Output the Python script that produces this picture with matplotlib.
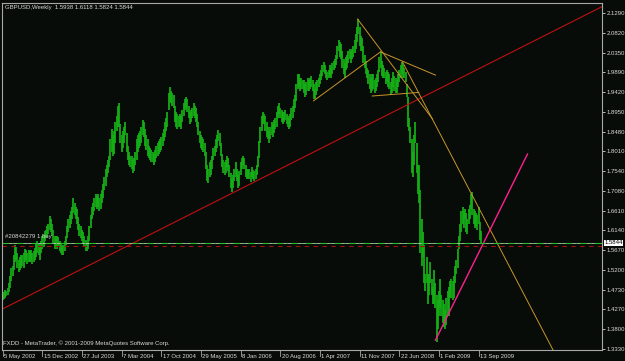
import matplotlib
matplotlib.use("Agg")
import matplotlib.pyplot as plt
import matplotlib.transforms as mtransforms

# weekly GBPUSD bars, week 0 = 5 May 2002
lows = [
    1.448, 1.452, 1.455, 1.458, 1.462, 1.468, 1.478, 1.495, 1.505, 1.520, 1.540, 1.545,
    1.525, 1.515, 1.520, 1.525, 1.530, 1.525, 1.540, 1.545, 1.535, 1.540, 1.538, 1.542,
    1.535, 1.540, 1.545, 1.550, 1.560, 1.555, 1.545, 1.560, 1.570, 1.575, 1.590, 1.595,
    1.598, 1.605, 1.615, 1.610, 1.600, 1.585, 1.570, 1.575, 1.570, 1.575, 1.565, 1.560,
    1.555, 1.555, 1.565, 1.580, 1.595, 1.610, 1.620, 1.630, 1.640, 1.655, 1.650, 1.640,
    1.630, 1.615, 1.600, 1.595, 1.590, 1.585, 1.575, 1.565, 1.565, 1.570, 1.590, 1.620,
    1.640, 1.650, 1.660, 1.670, 1.665, 1.670, 1.660, 1.665, 1.680, 1.690, 1.710, 1.720,
    1.740, 1.750, 1.765, 1.780, 1.800, 1.790, 1.795, 1.820, 1.850, 1.860, 1.860, 1.820,
    1.800, 1.810, 1.820, 1.840, 1.800, 1.780, 1.770, 1.765, 1.760, 1.750, 1.755, 1.770,
    1.780, 1.800, 1.810, 1.815, 1.820, 1.840, 1.835, 1.815, 1.805, 1.790, 1.785, 1.780,
    1.775, 1.775, 1.770, 1.775, 1.785, 1.790, 1.795, 1.800, 1.805, 1.815, 1.825, 1.835,
    1.850, 1.860, 1.900, 1.920, 1.915, 1.910, 1.905, 1.870, 1.860, 1.855, 1.860, 1.860,
    1.855, 1.870, 1.885, 1.900, 1.905, 1.895, 1.880, 1.865, 1.870, 1.880, 1.885, 1.880,
    1.870, 1.860, 1.840, 1.820, 1.810, 1.805, 1.800, 1.790, 1.760, 1.730, 1.727, 1.740,
    1.745, 1.760, 1.780, 1.790, 1.800, 1.810, 1.825, 1.815, 1.790, 1.765, 1.750, 1.745,
    1.750, 1.765, 1.755, 1.740, 1.715, 1.705, 1.715, 1.730, 1.740, 1.730, 1.715, 1.720,
    1.745, 1.760, 1.770, 1.760, 1.740, 1.735, 1.735, 1.735, 1.728, 1.740, 1.735, 1.730,
    1.735, 1.745, 1.765, 1.785, 1.820, 1.850, 1.865, 1.865, 1.850, 1.835, 1.830, 1.820,
    1.830, 1.840, 1.835, 1.845, 1.855, 1.860, 1.880, 1.890, 1.880, 1.870, 1.865, 1.870,
    1.875, 1.865, 1.860, 1.855, 1.860, 1.875, 1.880, 1.895, 1.905, 1.920, 1.950, 1.955,
    1.945, 1.950, 1.950, 1.940, 1.930, 1.935, 1.945, 1.945, 1.950, 1.955, 1.945, 1.925,
    1.925, 1.935, 1.945, 1.955, 1.960, 1.970, 1.980, 1.990, 1.985, 1.975, 1.970, 1.975,
    1.980, 1.975, 1.985, 1.995, 2.000, 2.005, 2.020, 2.040, 2.025, 2.020, 2.000, 1.985,
    1.975, 1.995, 2.000, 2.010, 2.020, 2.010, 2.020, 2.025, 2.035, 2.045, 2.060, 2.080,
    2.050, 2.040, 2.040, 2.010, 2.000, 1.985, 1.975, 1.960, 1.950, 1.940, 1.945, 1.950,
    1.940, 1.945, 1.955, 1.965, 1.990, 2.000, 1.980, 1.975, 1.975, 1.960, 1.965, 1.955,
    1.950, 1.935, 1.940, 1.955, 1.945, 1.940, 1.940, 1.955, 1.965, 1.975, 1.985, 1.975,
    1.975, 1.965, 1.930, 1.860, 1.850, 1.820, 1.750, 1.740, 1.770, 1.820, 1.750, 1.700,
    1.680, 1.560, 1.530, 1.550, 1.490, 1.470, 1.490, 1.440, 1.460, 1.490, 1.460, 1.440,
    1.440, 1.430, 1.350, 1.380, 1.410, 1.430, 1.410, 1.395, 1.385, 1.380, 1.390, 1.410,
    1.410, 1.455, 1.455, 1.450, 1.455, 1.490, 1.510, 1.525, 1.570, 1.590, 1.610, 1.630,
    1.620, 1.640, 1.610, 1.605, 1.630, 1.640, 1.665, 1.650, 1.630, 1.620, 1.625, 1.615,
    1.630, 1.592, 1.5824,
]
highs = [
    1.466, 1.468, 1.472, 1.470, 1.478, 1.490, 1.505, 1.525, 1.530, 1.555, 1.580, 1.575,
    1.560, 1.545, 1.550, 1.555, 1.555, 1.560, 1.570, 1.568, 1.560, 1.568, 1.565, 1.568,
    1.560, 1.565, 1.572, 1.585, 1.590, 1.582, 1.575, 1.590, 1.600, 1.605, 1.612, 1.615,
    1.625, 1.630, 1.648, 1.640, 1.630, 1.615, 1.600, 1.600, 1.600, 1.598, 1.590, 1.585,
    1.578, 1.580, 1.590, 1.600, 1.625, 1.640, 1.650, 1.660, 1.670, 1.690, 1.680, 1.670,
    1.665, 1.645, 1.630, 1.625, 1.615, 1.610, 1.600, 1.592, 1.585, 1.600, 1.625, 1.650,
    1.670, 1.680, 1.690, 1.700, 1.695, 1.700, 1.690, 1.700, 1.710, 1.725, 1.740, 1.760,
    1.770, 1.780, 1.790, 1.830, 1.855, 1.840, 1.850, 1.870, 1.885, 1.910, 1.915, 1.865,
    1.840, 1.850, 1.860, 1.870, 1.845, 1.815, 1.800, 1.790, 1.790, 1.780, 1.785, 1.800,
    1.830, 1.840, 1.845, 1.850, 1.860, 1.876, 1.870, 1.855, 1.840, 1.830, 1.815, 1.810,
    1.805, 1.800, 1.795, 1.805, 1.815, 1.820, 1.825, 1.830, 1.835, 1.845, 1.855, 1.870,
    1.880, 1.895, 1.940, 1.955, 1.945, 1.940, 1.935, 1.910, 1.895, 1.890, 1.885, 1.890,
    1.885, 1.900, 1.915, 1.925, 1.930, 1.925, 1.910, 1.895, 1.900, 1.905, 1.915, 1.910,
    1.905, 1.890, 1.870, 1.850, 1.840, 1.835, 1.830, 1.820, 1.800, 1.770, 1.760, 1.775,
    1.780, 1.790, 1.810, 1.815, 1.830, 1.840, 1.852, 1.845, 1.820, 1.795, 1.780, 1.775,
    1.780, 1.790, 1.785, 1.770, 1.750, 1.735, 1.745, 1.760, 1.775, 1.760, 1.745, 1.755,
    1.775, 1.785, 1.790, 1.785, 1.770, 1.760, 1.760, 1.760, 1.752, 1.765, 1.758, 1.755,
    1.760, 1.770, 1.790, 1.825, 1.860, 1.885, 1.895, 1.890, 1.885, 1.870, 1.860, 1.850,
    1.860, 1.870, 1.865, 1.875, 1.880, 1.895, 1.910, 1.915, 1.905, 1.900, 1.895, 1.895,
    1.900, 1.890, 1.885, 1.880, 1.890, 1.905, 1.910, 1.925, 1.935, 1.960, 1.985, 1.985,
    1.975, 1.975, 1.970, 1.970, 1.960, 1.965, 1.975, 1.970, 1.975, 1.980, 1.970, 1.960,
    1.950, 1.965, 1.970, 1.975, 1.985, 1.995, 2.005, 2.013, 2.005, 1.995, 1.990, 1.995,
    2.005, 2.000, 2.010, 2.015, 2.020, 2.030, 2.050, 2.065, 2.060, 2.055, 2.040, 2.020,
    2.010, 2.025, 2.030, 2.040, 2.045, 2.040, 2.045, 2.050, 2.065, 2.080, 2.095, 2.116,
    2.095, 2.075, 2.070, 2.050, 2.030, 2.015, 2.000, 1.995, 1.985, 1.975, 1.985, 1.985,
    1.970, 1.975, 1.985, 1.995, 2.025, 2.037, 2.015, 2.005, 2.000, 1.990, 1.995, 1.990,
    1.985, 1.965, 1.975, 1.990, 1.980, 1.975, 1.970, 1.985, 1.995, 2.005, 2.013, 2.005,
    2.000, 1.990, 1.960, 1.930, 1.880, 1.860, 1.830, 1.800, 1.840, 1.870, 1.820, 1.770,
    1.770, 1.710, 1.640, 1.610, 1.580, 1.510, 1.550, 1.510, 1.510, 1.540, 1.500, 1.480,
    1.520, 1.490, 1.460, 1.450, 1.470, 1.500, 1.460, 1.450, 1.440, 1.425, 1.455, 1.470,
    1.480, 1.495, 1.500, 1.495, 1.505, 1.530, 1.545, 1.570, 1.600, 1.630, 1.660, 1.670,
    1.660, 1.665, 1.655, 1.640, 1.665, 1.675, 1.700, 1.705, 1.665, 1.660, 1.655, 1.650,
    1.670, 1.635, 1.6118,
]
weeks = list(range(len(lows)))

date_ticks = [0, 32, 64, 96, 128, 160, 192, 224, 256, 288, 320, 352, 384]
date_labels = ["5 May 2002", "15 Dec 2002", "27 Jul 2003", "7 Mar 2004", "17 Oct 2004",
               "29 May 2005", "8 Jan 2006", "20 Aug 2006", "1 Apr 2007", "11 Nov 2007",
               "22 Jun 2008", "1 Feb 2009", "13 Sep 2009"]
price_ticks = [1.3330, 1.3800, 1.4270, 1.4730, 1.5200, 1.5670, 1.6140, 1.6610, 1.7080,
               1.7540, 1.8010, 1.8480, 1.8950, 1.9420, 1.9890, 2.0350, 2.0820, 2.1290]

# trend lines (week, price) anchor pairs
red_line = ([0, 484], [1.428, 2.145])
gold_long = ([322.6, 377.4], [2.013, 1.705])   # ray to the right
gold_top = ([286.3, 346.8], [2.115, 1.878])
gold_rise = ([250.8, 304.8], [1.921, 2.037])
gold_upper = ([304.8, 349.2], [2.037, 1.982])
gold_base = ([298.1, 335.7], [1.9325, 1.941])
pink_line = ([349.2, 423.4], [1.354, 1.795])

last_price = 1.5844
order_price = 1.5850
stop_price = 1.5775

bg = "#080c08"
fg = "#d8d8d8"
gold = "#c8962a"

fig = plt.figure(figsize=(6.25, 3.61), dpi=100, facecolor=bg)
ax = fig.add_axes([2 / 625, 11 / 361, 600 / 625, 347 / 361], facecolor=bg)
ax.set_xlim(-0.5, 483.5)
ax.set_ylim(1.3306, 1.333 + 346 / 422)

ax.vlines(weeks, lows, highs, color="#16b016", linewidth=1.25)

ax.plot(*red_line, color="#c01010", linewidth=0.8)

# extend the long gold trend line as a ray
(gx0, gx1), (gy0, gy1) = gold_long
slope = (gy1 - gy0) / (gx1 - gx0)
ax.plot([gx0, 484], [gy0, gy0 + slope * (484 - gx0)], color=gold, linewidth=0.7)
for seg in (gold_top, gold_rise, gold_upper, gold_base):
    ax.plot(*seg, color=gold, linewidth=0.7)
ax.plot(*pink_line, color="#ff1f8f", linewidth=1.0)

ax.axhline(last_price, color="#c0c8c0", linewidth=0.6)
ax.axhline(order_price, color="#20c020", linewidth=0.8, dashes=(6, 3, 1, 3))
ax.axhline(stop_price, color="#a01010", linewidth=0.8, dashes=(4, 4))

for s in ("left", "right", "bottom", "top"):
    ax.spines[s].set_color("#a8a8a8")
    ax.spines[s].set_linewidth(0.8)

ax.set_xticks([])
ax.yaxis.tick_right()
ax.set_yticks(price_ticks)
ax.set_yticklabels(["%.4f" % p for p in price_ticks])
ax.tick_params(axis="y", colors=fg, labelsize=4.3, length=2, width=0.6, pad=1.5)
for lab in ax.get_yticklabels():
    lab.set_family("Liberation Sans")

trans = mtransforms.blended_transform_factory(ax.transData, ax.transAxes)
for w, lab in zip(date_ticks, date_labels):
    ax.plot([w, w], [0, -0.018], transform=trans, color="#a8a8a8", linewidth=0.6,
            clip_on=False)
    ax.text(w + 1.2, -0.018, lab, transform=trans, color=fg, fontsize=4.3,
            family="Liberation Sans", ha="left", va="center")

ax.text(1.004, last_price, "%.4f" % last_price, transform=ax.get_yaxis_transform(),
        color="black", fontsize=4.3, family="Liberation Sans", ha="left", va="center",
        bbox=dict(boxstyle="square,pad=0.1", facecolor="white", edgecolor="none"))

ax.text(0.005, 0.993, "GBPUSD,Weekly  1.5938 1.6118 1.5824 1.5844", transform=ax.transAxes,
        color=fg, fontsize=4.3, family="Liberation Sans", ha="left", va="top")
ax.text(0.002, 0.012, "FXDD - MetaTrader, \u00a9 2001-2009 MetaQuotes Software Corp.",
        transform=ax.transAxes, color=fg, fontsize=4.3, family="Liberation Sans",
        ha="left", va="bottom")
ax.text(2, order_price + 0.008, "#20842279 1 buy", color=fg, fontsize=4.3,
        family="Liberation Sans", ha="left", va="bottom")

fig.savefig("out.png", dpi=100, facecolor=bg)
